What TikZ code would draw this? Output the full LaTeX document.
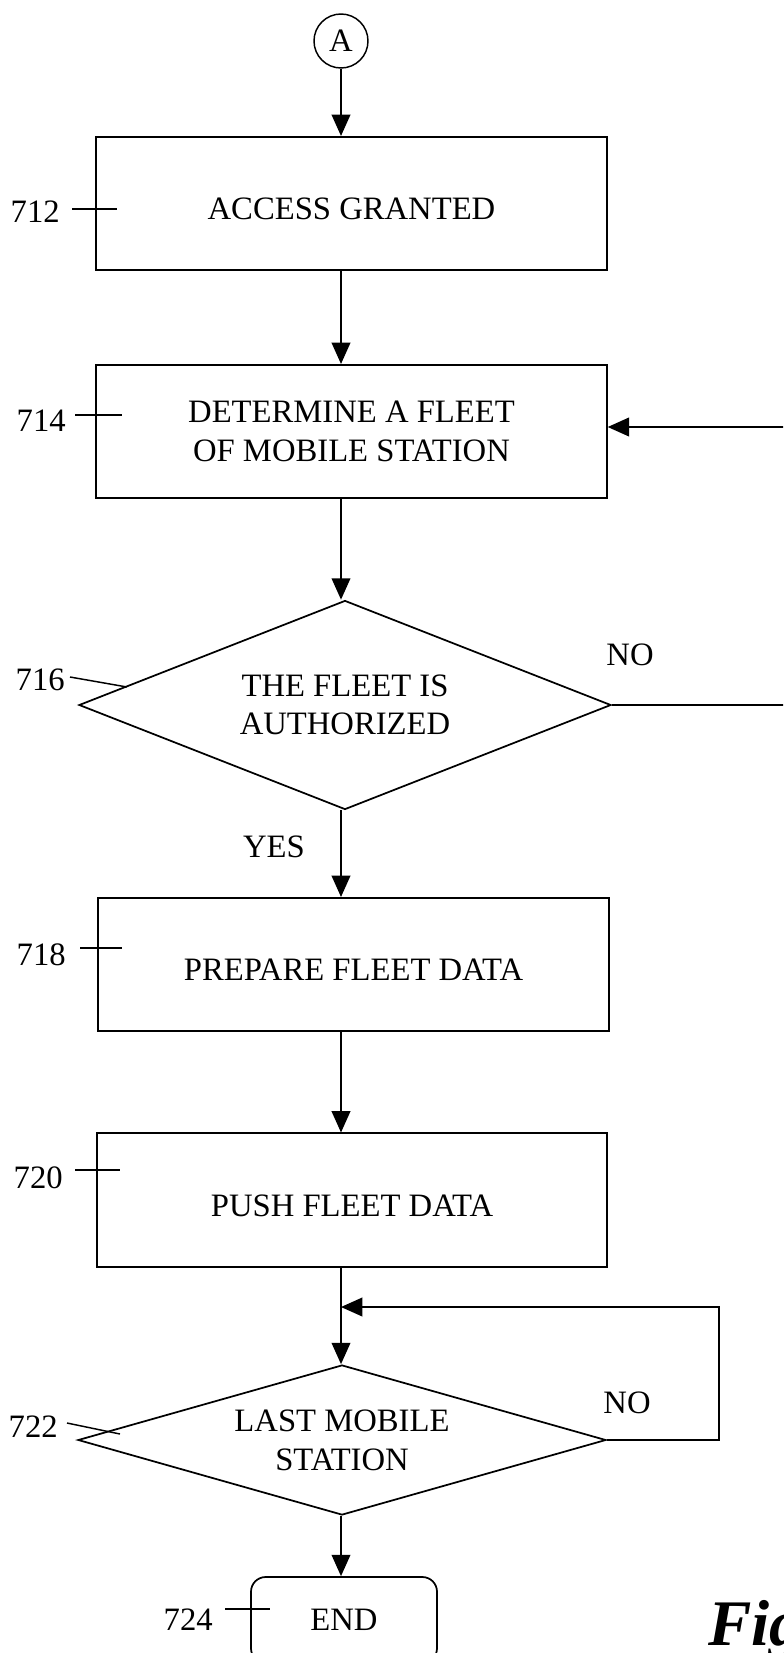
\documentclass[tikz,border=0pt]{standalone}
\usepackage{fontspec}
\setmainfont{Liberation Serif}
\usetikzlibrary{arrows.meta,shapes.geometric}
\newcommand{\steptext}{\fontsize{24.5}{29}\selectfont}
\newcommand{\figtext}{\fontsize{48.75}{50}\selectfont\bfseries\itshape}
\tikzset{
  stepbox/.style={draw,line width=1.3pt,minimum width=383pt,minimum height=100pt,
    align=center,inner sep=0pt,font=\steptext},
  lowtext/.style={text height=24pt,text depth=0pt},
  decisionbox/.style={diamond,draw,line width=1.3pt,inner sep=0pt,aspect=2.5,
    align=center,font=\steptext},
  endbox/.style={draw,line width=1.3pt,rounded corners=11pt,minimum width=139.5pt,
    minimum height=64.5pt,font=\steptext},
  connectorcircle/.style={circle,draw,line width=1.1pt,minimum size=40.5pt,inner sep=0pt,
    font=\steptext},
  flowarrow/.style={-{Triangle[length=16pt,width=14pt]},line width=1.3pt},
  refnum/.style={anchor=east,inner sep=0pt,font=\steptext},
  branchlabel/.style={inner sep=0pt,font=\steptext}
}

\begin{document}
\begin{tikzpicture}[x=0.75pt,y=-0.75pt]
  \useasboundingbox (0,0) rectangle (783,1653);
  \clip (0,0) rectangle (783,1653);

  \node[connectorcircle] (connA) at (341,41) {A};
  \node[stepbox,lowtext] (granted) at (351.5,203.5) {ACCESS GRANTED};
  \node[stepbox] (determine) at (351.5,431.5) {DETERMINE A FLEET\\OF MOBILE STATION};
  \node[decisionbox,minimum width=399pt,minimum height=156.75pt] (authorized) at (345,705)
    {THE FLEET IS\\AUTHORIZED};
  \node[stepbox,lowtext] (prepare) at (353.5,964.5) {PREPARE FLEET DATA};
  \node[stepbox,lowtext] (push) at (352,1200) {PUSH FLEET DATA};
  \node[decisionbox,aspect=3.5,minimum width=396pt,minimum height=112.5pt] (lastms) at (342,1440)
    {LAST MOBILE\\STATION};
  \node[endbox] (finish) at (344,1620) {END};

  % main flow
  \draw[flowarrow] (connA) -- (granted.north -| connA);
  \draw[flowarrow] (granted.south -| connA) -- (determine.north -| connA);
  \draw[flowarrow] (determine.south -| connA) -- (authorized.north -| connA);
  \draw[flowarrow] (authorized.south -| connA) -- (prepare.north -| connA);
  \draw[flowarrow] (prepare.south -| connA) -- (push.north -| connA);
  \draw[flowarrow] (push.south -| connA) -- (lastms.north -| connA);
  \draw[flowarrow] (lastms.south -| connA) -- (finish.north -| connA);

  % loops back
  \coordinate (fleetloop) at (840,427);
  \coordinate (stationloop) at (719,1307);
  \draw[flowarrow] (authorized.east) -| (fleetloop) -- (fleetloop -| determine.east);
  \draw[flowarrow] (lastms.east) -| (stationloop) -- (stationloop -| connA);

  \node[branchlabel] (nofleet) at (630,655) {NO};
  \node[branchlabel] (yesfleet) at (274,847) {YES};
  \node[branchlabel] (nostation) at (627,1403) {NO};

  % reference numerals
  \node[refnum] (r712) at (60,212) {712};
  \draw[line width=1.1pt] (72,209) -- (117,209);
  \node[refnum] (r714) at (66,421) {714};
  \draw[line width=1.1pt] (75,415) -- (122,415);
  \node[refnum] (r716) at (65,680) {716};
  \draw[line width=1.1pt] (70,677) -- (127,687);
  \node[refnum] (r718) at (66,955) {718};
  \draw[line width=1.1pt] (80,948) -- (122,948);
  \node[refnum] (r720) at (63,1178) {720};
  \draw[line width=1.1pt] (75,1170) -- (120,1170);
  \node[refnum] (r722) at (58,1427) {722};
  \draw[line width=1.1pt] (67,1423) -- (120,1434);
  \node[refnum] (r724) at (213,1620) {724};
  \draw[line width=1.1pt] (225,1609) -- (270,1609);

  \node[anchor=base west,inner sep=0pt,font=\figtext] (figcap) at (708,1645) {Fig};
\end{tikzpicture}
\end{document}
